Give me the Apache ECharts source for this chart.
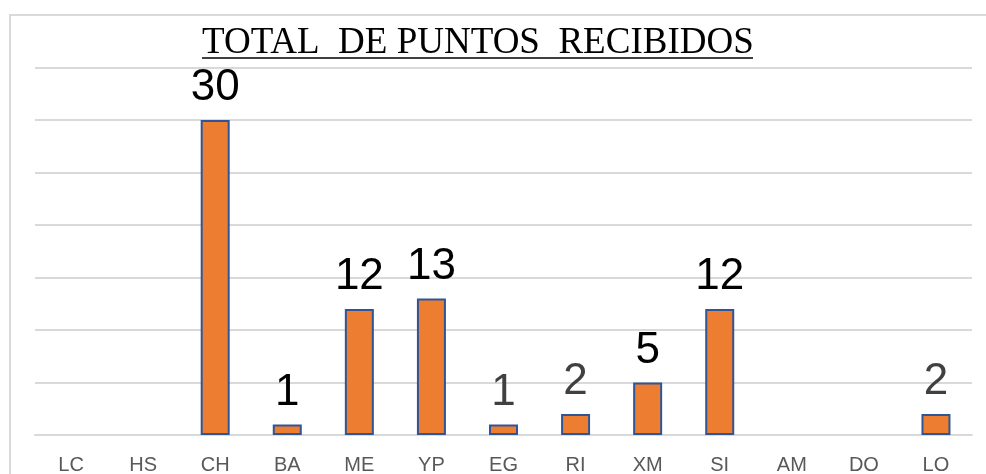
<!DOCTYPE html>
<html><head><meta charset="utf-8">
<script src="https://cdn.jsdelivr.net/npm/echarts@6/dist/echarts.min.js"></script>
<style>html,body{margin:0;padding:0;background:#fff}#c{width:986px;height:474px}</style>
</head><body><div id="c"></div>
<script>
const categories = ['LC','HS','CH','BA','ME','YP','EG','RI','XM','SI','AM','DO','LO'];
const values = [0,0,30,1,12,13,1,2,5,12,0,0,2];
const labelColors = ['#000','#000','#000','#000','#000','#000','#404040','#404040','#000','#000','#000','#000','#404040'];

const chart = echarts.init(document.getElementById('c'));
chart.setOption({
  animation: false,
  grid: {left: 35, right: 14, top: 67.5, bottom: 39, containLabel:false, outerBoundsMode:'none'},
  graphic: [
    {type:'rect', shape:{x:10,y:15,width:1000,height:500}, style:{fill:'none', stroke:'#D9D9D9', lineWidth:2}, z:-1},
    {type:'text', left:202, top:25, style:{text:'TOTAL  DE PUNTOS  RECIBIDOS', font:'37px "Liberation Serif"', fill:'#000'}},
    {type:'line', shape:{x1:202,y1:58,x2:753,y2:58}, style:{stroke:'#000', lineWidth:1.5}}
  ],
  xAxis: {
    type:'category', data: categories,
    axisLine:{lineStyle:{color:'#D9D9D9', width:2}},
    axisTick:{show:false},
    axisLabel:{color:'#595959', fontSize:20, fontFamily:'"Liberation Sans"', margin:20}
  },
  yAxis: {
    type:'value', min:0, max:35, interval:5,
    axisLabel:{show:false}, axisLine:{show:false}, axisTick:{show:false},
    splitLine:{lineStyle:{color:'#D9D9D9', width:2}}
  },
  series: [{
    type:'bar', barWidth:29,
    data: values.map((v,i)=>({value:v, label:{color:labelColors[i]}, itemStyle: v === 0 ? {borderWidth:0} : {}})),
    itemStyle:{color:'#ED7D31', borderColor:'#2F5597', borderWidth:2},
    label:{show:true, position:'top', fontSize:44, fontFamily:'"Liberation Sans"', distance:10,
      formatter: p => p.value === 0 ? '' : String(p.value)}
  }]
});
</script></body></html>
